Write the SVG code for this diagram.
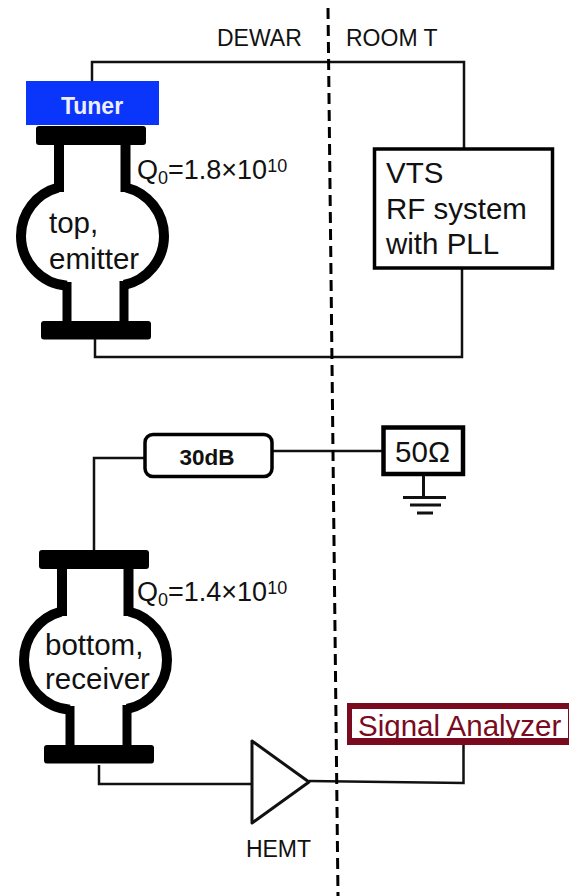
<svg xmlns="http://www.w3.org/2000/svg" width="569" height="896" viewBox="0 0 569 896">
<style>
text{font-family:"Liberation Sans",Arial,sans-serif;fill:#111}
.w{fill:none;stroke:#111;stroke-width:2.5}
.c{fill:none;stroke:#000;stroke-width:10}
.n{fill:none;stroke:#000;stroke-width:9}
.f{fill:#000}
.b{font-size:29.500px}
.q{font-size:27px}
.l{font-size:23px}
</style>
<defs>
<g id="cav">
<rect class="f" x="36" y="126" width="110" height="19" rx="3"/>
<rect class="f" x="41" y="321" width="110" height="18.500" rx="3"/>
<path class="c" d="M59 145V192"/>
<path class="c" d="M125.500 145V192"/>
<path class="c" d="M58 187.700A50 50 0 0 0 21 236A50 50 0 0 0 67 285.800M126 187.500A50 50 0 0 1 164 236A50 50 0 0 1 124 285"/>
<path class="n" d="M67 282V321M124 281V321"/>
</g>
</defs>
<g id="connectors">
<path class="w" d="M92 82V62H464V148"/>
<path class="w" d="M95 339V357H462V268"/>
<path class="w" d="M94 551V458H144"/>
<path class="w" d="M272 451H382"/>
<path class="w" d="M99 765V784H252"/>
<path class="w" d="M309 781L463.500 783V745"/>
<path fill="none" stroke="#000" stroke-width="3" stroke-dasharray="11 6" d="M328 8L338 896"/>
</g>
<g id="tuner"><rect x="26" y="81" width="133" height="44" fill="#0a35fb"/><text x="92" y="114" text-anchor="middle" font-size="23" font-weight="700" style="fill:#eef">Tuner</text></g>
<g id="top-cavity"><use href="#cav"/>
<text x="49" y="233" class="b">top,</text><text x="49" y="269" class="b">emitter</text>
<text x="137" y="179" class="q">Q<tspan font-size="18" dy="5">0</tspan><tspan dy="-5">=1.8×10</tspan><tspan font-size="18" dy="-7">10</tspan></text></g>
<g id="bottom-cavity"><use href="#cav" transform="translate(3 424)"/>
<text x="45" y="655" class="b">bottom,</text><text x="45" y="689" class="b">receiver</text>
<text x="137" y="601" class="q">Q<tspan font-size="18" dy="5">0</tspan><tspan dy="-5">=1.4×10</tspan><tspan font-size="18" dy="-7">10</tspan></text></g>
<g id="vts"><rect x="374.500" y="149" width="178" height="119" fill="#fff" stroke="#000" stroke-width="3.500"/>
<text x="386" y="183" class="b">VTS</text><text x="386" y="219" class="b">RF system</text><text x="386" y="254" class="b">with PLL</text></g>
<g id="atten"><rect x="145" y="434.500" width="127" height="42" rx="8" fill="#fff" stroke="#000" stroke-width="3.500"/><text x="207" y="465" text-anchor="middle" font-size="22.500" font-weight="700">30dB</text></g>
<g id="load"><rect x="383.500" y="427.500" width="79.500" height="46.500" fill="#fff" stroke="#000" stroke-width="4.500"/><text x="422.500" y="462" text-anchor="middle" class="b">50Ω</text>
<path d="M423.500 476V497" fill="none" stroke="#111" stroke-width="3"/><path d="M403 497.500H446M410 505H441M417 513H433" fill="none" stroke="#111" stroke-width="3"/></g>
<g id="hemt"><path d="M252 741V823L309 782Z" fill="#fff" stroke="#111" stroke-width="3" stroke-linejoin="round"/><text x="278.500" y="857" text-anchor="middle" class="l">HEMT</text></g>
<g id="analyzer"><rect x="347" y="703" width="222" height="42" fill="#7a0a1e"/><rect x="352" y="709" width="216" height="29" fill="#fff"/><text x="358" y="736" font-size="29.500" style="fill:#7a0a1e">Signal Analyzer</text></g>
<g id="labels"><text x="217" y="46" class="l">DEWAR</text><text x="346" y="46" class="l">ROOM T</text></g>
</svg>
